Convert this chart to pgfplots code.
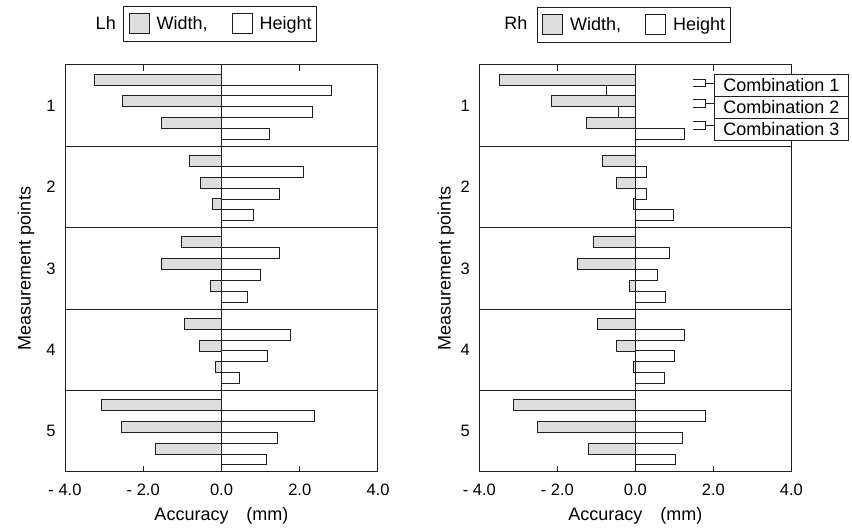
\documentclass[border=0pt]{standalone}
\usepackage{fontspec}
\setmainfont{Liberation Sans}
\usepackage{pgfplots}
\usepackage{pgfplotstable}
\pgfplotsset{compat=1.18}

\definecolor{wfill}{RGB}{221,221,221}
\definecolor{lc}{RGB}{30,30,30}

% point, then width/height for combination 1, 2, 3
\pgfplotstableread{
pt W1 H1 W2 H2 W3 H3
1 -3.24 2.80 -2.54 2.33 -1.53 1.22
2 -0.83 2.10 -0.54 1.49 -0.24 0.81
3 -1.01 1.49 -1.53 1.00 -0.28 0.67
4 -0.95 1.76 -0.55 1.18 -0.15 0.45
5 -3.06 2.38 -2.56 1.42 -1.69 1.15
}\dataL
\pgfplotstableread{
pt W1 H1 W2 H2 W3 H3
1 -3.48 -0.73 -2.14 -0.43 -1.25 1.27
2 -0.84 0.28 -0.48 0.28 -0.04 0.97
3 -1.07 0.87 -1.48 0.57 -0.14 0.78
4 -0.97 1.26 -0.48 1.01 -0.04 0.75
5 -3.12 1.80 -2.50 1.21 -1.20 1.03
}\dataR

\pgfplotsset{
  panel/.style={
    scale only axis, height=407pt,
    xmin=-4, xmax=4, ymin=0.5, ymax=5.5, y dir=reverse,
    xtick={-4,-2,0,2,4}, xticklabels={- 4.0,- 2.0,0.0,2.0,4.0},
    ytick={1,2,3,4,5},
    tick align=inside, major tick length=6pt,
    ytick style={draw=none},
    axis line style={lc, line width=1pt},
    tick style={lc, line width=1pt},
    extra x ticks={0}, extra x tick labels={},
    extra x tick style={grid=major, major tick length=0pt},
    extra y ticks={1.5,2.5,3.5,4.5}, extra y tick labels={},
    extra y tick style={grid=major, major tick length=0pt},
    major grid style={lc, line width=1pt},
    clip=false,
    font=\fontsize{18}{21}\selectfont,
    tick label style={font=\fontsize{16.5}{19}\selectfont},
    /pgf/number format/assume math mode=true,
    xticklabel style={yshift=-8pt},
    yticklabel style={xshift=-6pt},
    xlabel={Accuracy\hspace{18pt}(mm)},
    xlabel style={at={(axis description cs:0.5,0)}, anchor=north, yshift=-31.6pt},
    ylabel={Measurement points},
    legend columns=2,
    legend style={anchor=north west, draw=lc, line width=1pt,
      inner xsep=5pt, inner ysep=7pt, nodes={inner sep=0pt},
      column sep=7pt, /tikz/every even column/.append style={column sep=24pt},
      font=\fontsize{18}{21}\selectfont},
  },
  wbar/.style={xbar, bar width=0.134, fill=wfill, draw=lc, line width=1pt,
    legend image code/.code={\draw[##1] (0pt,-10pt) rectangle (20pt,10pt);}},
  hbar/.style={xbar, bar width=0.134, fill=white, draw=lc, line width=1pt,
    legend image code/.code={\draw[##1] (0pt,-10pt) rectangle (20pt,10pt);}},
}

\begin{document}
\begin{tikzpicture}
\path (0pt,0pt) rectangle (852pt,527pt);

\begin{axis}[panel, width=313pt, at={(65pt,55pt)}, anchor=south west,
  ylabel style={at={(axis description cs:-0.125,0.5)}, anchor=center},
  legend style={at={(axis description cs:0.186,1.145)}}]
\addplot[wbar, bar shift=-0.32] table[x=W1, y=pt] {\dataL};
\addlegendentry{Width,}
\addplot[hbar, bar shift=-0.187] table[x=H1, y=pt] {\dataL};
\addlegendentry{Height}
\addplot[wbar, bar shift=-0.053, forget plot] table[x=W2, y=pt] {\dataL};
\addplot[hbar, bar shift=0.08, forget plot] table[x=H2, y=pt] {\dataL};
\addplot[wbar, bar shift=0.213, forget plot] table[x=W3, y=pt] {\dataL};
\addplot[hbar, bar shift=0.347, forget plot] table[x=H3, y=pt] {\dataL};
\node[anchor=east] at (axis description cs:0.1735,1.103) {Lh};
\end{axis}

\begin{axis}[panel, width=312pt, at={(479.3pt,55pt)}, anchor=south west,
  ylabel style={at={(axis description cs:-0.107,0.5)}, anchor=center},
  legend style={at={(axis description cs:0.184,1.143)}}]
\addplot[wbar, bar shift=-0.32] table[x=W1, y=pt] {\dataR};
\addlegendentry{Width,}
\addplot[hbar, bar shift=-0.187] table[x=H1, y=pt] {\dataR};
\addlegendentry{Height}
\addplot[wbar, bar shift=-0.053, forget plot] table[x=W2, y=pt] {\dataR};
\addplot[hbar, bar shift=0.08, forget plot] table[x=H2, y=pt] {\dataR};
\addplot[wbar, bar shift=0.213, forget plot] table[x=W3, y=pt] {\dataR};
\addplot[hbar, bar shift=0.347, forget plot] table[x=H3, y=pt] {\dataR};
\node[anchor=east] at (axis description cs:0.1657,1.103) {Rh};
% combination call-outs
\draw[lc, line width=1pt] (axis cs:1.48,0.678) -- (axis cs:1.80,0.678) -- (axis cs:1.80,0.770) -- (axis cs:1.48,0.770);
\draw[lc, line width=1pt] (axis cs:1.80,0.724) -- (axis cs:2.02,0.724);
\draw[lc, line width=1pt] (axis cs:1.48,0.930) -- (axis cs:1.80,0.930) -- (axis cs:1.80,1.021) -- (axis cs:1.48,1.021);
\draw[lc, line width=1pt] (axis cs:1.80,0.976) -- (axis cs:2.02,0.976);
\draw[lc, line width=1pt] (axis cs:1.48,1.200) -- (axis cs:1.80,1.200) -- (axis cs:1.80,1.290) -- (axis cs:1.48,1.290);
\draw[lc, line width=1pt] (axis cs:1.80,1.245) -- (axis cs:2.02,1.245);
\node[draw=lc, line width=1pt, fill=white, minimum width=134pt, minimum height=22pt, inner sep=0pt, anchor=north west] at (axis cs:2.018,0.6106) {Combination 1};
\node[draw=lc, line width=1pt, fill=white, minimum width=134pt, minimum height=22pt, inner sep=0pt, anchor=north west] at (axis cs:2.018,0.8808) {Combination 2};
\node[draw=lc, line width=1pt, fill=white, minimum width=134pt, minimum height=22pt, inner sep=0pt, anchor=north west] at (axis cs:2.018,1.151) {Combination 3};
\end{axis}
\end{tikzpicture}
\end{document}
